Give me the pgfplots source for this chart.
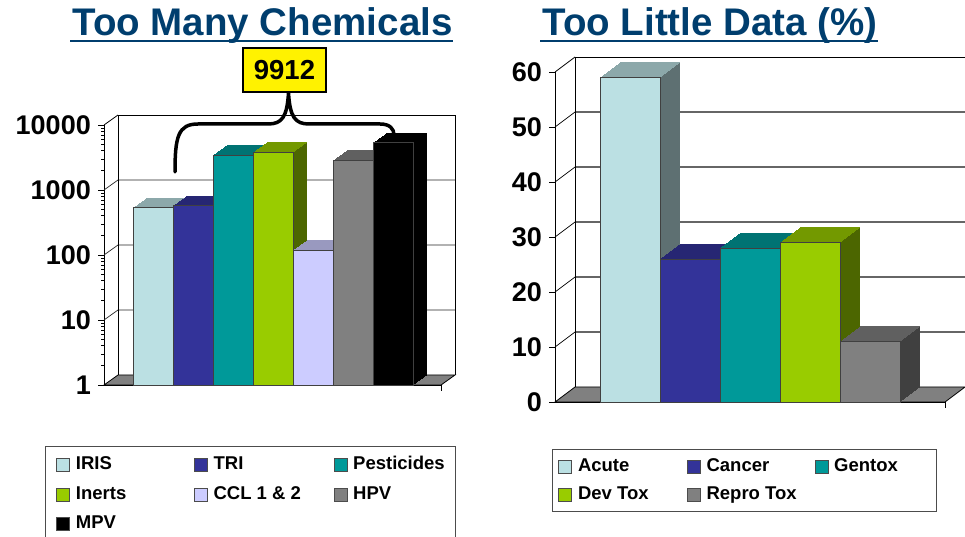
\documentclass[border=0pt]{standalone}
\usepackage{pgfplots}
\pgfplotsset{compat=1.18}
\usepackage{fontspec}
\setmainfont{Liberation Sans}
\definecolor{ttl}{RGB}{0,62,110}
\definecolor{cIRIS}{RGB}{187,224,227}
\definecolor{cTRI}{RGB}{51,51,153}
\definecolor{cPest}{RGB}{0,153,153}
\definecolor{cIner}{RGB}{153,204,0}
\definecolor{cCCL}{RGB}{204,204,255}
\definecolor{cHPV}{RGB}{128,128,128}
\definecolor{cMPV}{RGB}{0,0,0}
\definecolor{cFloor}{RGB}{128,128,128}
\makeatletter
\tikzset{extrude/.code args={#1/#2/#3/#4/#5}{%
  \gdef\ext@list{}%
  \foreach \k in {#2,...,#3}{%
    \pgfmathsetmacro\ext@x{\k*#4}%
    \pgfmathsetmacro\ext@y{\k*#5}%
    \xdef\ext@list{\ext@list,preaction={fill=#1,draw=none,transform canvas={shift={(\ext@x pt,\ext@y pt)}}}}%
  }%
  \expandafter\pgfkeysalso\expandafter{\ext@list}%
}}
\makeatother
\pgfplotsset{
  sqlegend/.style={legend image code/.code={\draw[##1,draw=black!70,line width=0.6pt] (0pt,-6.5pt) rectangle (13pt,6.5pt); \path (19pt,0pt);}},
  topL/.style={ybar,bar width=40pt,bar shift=0pt,draw=none,fill=none,forget plot,extrude={#1!75!black/1/14/1/0.7143}},
  sideL/.style={ybar,bar width=1.3pt,bar shift=20.65pt,draw=none,fill=#1!50!black,forget plot,extrude={#1!50!black/1/13/1/0.7143}},
  frontL/.style={ybar,bar width=40pt,bar shift=0pt,fill=#1,draw=black!75,line width=0.6pt,sqlegend},
  topR/.style={ybar,bar width=60pt,bar shift=0pt,draw=none,fill=none,forget plot,extrude={#1!75!black/1/20/1/0.75}},
  sideR/.style={ybar,bar width=1.3pt,bar shift=30.65pt,draw=none,fill=#1!50!black,forget plot,extrude={#1!50!black/1/19/1/0.75}},
  frontR/.style={ybar,bar width=60pt,bar shift=0pt,fill=#1,draw=black!75,line width=0.6pt,sqlegend},
  base3d/.style={
    scale only axis, clip=false, enlargelimits=false,
    axis x line*=bottom, axis y line*=left,
    axis line style={black,line width=0.8pt},
    xtick=\empty, tick align=outside, major tick length=6pt,
    ytick style={black,line width=0.8pt},
    yticklabel style={font=\fontsize{27}{27}\selectfont\bfseries,inner xsep=0pt,xshift=-7pt},
    /pgf/number format/assume math mode=true,
    legend columns=3, legend cell align=left,
  },
}
\begin{document}
\begin{tikzpicture}
\path[use as bounding box] (0pt,0pt) rectangle (965pt,537pt);
% ---------------- left chart ----------------
\begin{axis}[base3d,
  at={(104pt,152pt)}, anchor=south west,
  width=337pt, height=260pt,
  xmin=-1.225, xmax=7.2,
  ymode=log, ymin=1, ymax=10000,
  ytick={1,10,100,1000,10000}, yticklabels={1,10,100,1000,10000},
  legend style={at={(-0.1751,-0.2346)}, anchor=north west, draw=black!70, line width=0.8pt,
    inner xsep=11pt, inner ysep=10pt, row sep=12.5pt,
    font=\fontsize{18.5}{18.5}\selectfont\bfseries,
    nodes={inner sep=0pt,text height=13.5pt,text depth=3.5pt}},
]
\draw[black,line width=0.8pt,fill=cFloor] (rel axis cs:0,0) -- (rel axis cs:1,0) -- ([shift={(14pt,10pt)}]rel axis cs:1,0) -- ([shift={(14pt,10pt)}]rel axis cs:0,0) -- cycle;
\pgfplotsinvokeforeach{10,100,1000}{
  \draw[black!85,line width=0.7pt] (axis cs:-1.225,#1) -- ([shift={(14pt,10pt)}]axis cs:-1.225,#1) -- ([shift={(14pt,10pt)}]axis cs:7.2,#1);
}
\draw[black,line width=0.8pt] ([shift={(14pt,10pt)}]rel axis cs:0,0) -- ([shift={(14pt,10pt)}]rel axis cs:0,1) -- ([shift={(14pt,10pt)}]rel axis cs:1,1) -- ([shift={(14pt,10pt)}]rel axis cs:1,0);
\draw[black,line width=0.8pt] (rel axis cs:0,1) -- ([shift={(14pt,10pt)}]rel axis cs:0,1);
\draw[black,line width=0.8pt] (rel axis cs:1,0) -- ++(0pt,-6pt);
% IRIS
\addplot[topL=cIRIS] coordinates {(0,534)};
\addplot[sideL=cIRIS] coordinates {(0,534)};
\addplot[frontL=cIRIS] coordinates {(0,534)};
\addlegendentry{\makebox[118pt][l]{IRIS}}
% TRI
\addplot[topL=cTRI] coordinates {(1,573)};
\addplot[sideL=cTRI] coordinates {(1,573)};
\addplot[frontL=cTRI] coordinates {(1,573)};
\addlegendentry{\makebox[120pt][l]{TRI}}
% Pesticides
\addplot[topL=cPest] coordinates {(2,3455)};
\addplot[sideL=cPest] coordinates {(2,3455)};
\addplot[frontL=cPest] coordinates {(2,3455)};
\addlegendentry{Pesticides}
% Inerts
\addplot[topL=cIner] coordinates {(3,3802)};
\addplot[sideL=cIner] coordinates {(3,3802)};
\addplot[frontL=cIner] coordinates {(3,3802)};
\addlegendentry{\makebox[118pt][l]{Inerts}}
% CCL
\addplot[topL=cCCL] coordinates {(4,119)};
\addplot[sideL=cCCL] coordinates {(4,119)};
\addplot[frontL=cCCL] coordinates {(4,119)};
\addlegendentry{\makebox[120pt][l]{CCL 1 \& 2}}
% HPV
\addplot[topL=cHPV] coordinates {(5,2864)};
\addplot[sideL=cHPV] coordinates {(5,2864)};
\addplot[frontL=cHPV] coordinates {(5,2864)};
\addlegendentry{HPV}
% MPV
\addplot[topL=cMPV] coordinates {(6,5340)};
\addplot[sideL=cMPV] coordinates {(6,5340)};
\addplot[frontL=cMPV] coordinates {(6,5340)};
\addlegendentry{\makebox[118pt][l]{MPV}}
\end{axis}
% ---------------- right chart ----------------
\begin{axis}[base3d,
  at={(555pt,135pt)}, anchor=south west,
  width=390pt, height=330pt,
  xmin=-1.25, xmax=5.25,
  ymin=0, ymax=60,
  ytick={0,10,20,30,40,50,60}, yticklabels={0,10,20,30,40,50,60},
  legend style={at={(-0.0077,-0.1424)}, anchor=north west, draw=black!70, line width=0.8pt,
    inner xsep=6pt, inner ysep=8.5pt, row sep=11pt,
    font=\fontsize{18.5}{18.5}\selectfont\bfseries,
    nodes={inner sep=0pt,text height=13.5pt,text depth=3.5pt}},
]
\draw[black,line width=0.8pt,fill=cFloor] (rel axis cs:0,0) -- (rel axis cs:1,0) -- ([shift={(20pt,15pt)}]rel axis cs:1,0) -- ([shift={(20pt,15pt)}]rel axis cs:0,0) -- cycle;
\pgfplotsinvokeforeach{10,20,30,40,50}{
  \draw[black,line width=0.7pt] (axis cs:-1.25,#1) -- ([shift={(20pt,15pt)}]axis cs:-1.25,#1);
  \draw[black!60,line width=1.1pt] ([shift={(20pt,15pt)}]axis cs:-1.25,#1) -- ([shift={(20pt,15pt)}]axis cs:5.25,#1);
}
\draw[black,line width=0.8pt] ([shift={(20pt,15pt)}]rel axis cs:0,0) -- ([shift={(20pt,15pt)}]rel axis cs:0,1) -- ([shift={(20pt,15pt)}]rel axis cs:1,1) -- ([shift={(20pt,15pt)}]rel axis cs:1,0);
\draw[black,line width=0.8pt] (rel axis cs:0,1) -- ([shift={(20pt,15pt)}]rel axis cs:0,1);
\draw[black,line width=0.8pt] (rel axis cs:1,0) -- ++(0pt,-6pt);
% Acute
\addplot[topR=cIRIS] coordinates {(0,59)};
\addplot[sideR=cIRIS] coordinates {(0,59)};
\addplot[frontR=cIRIS] coordinates {(0,59)};
\addlegendentry{\makebox[109pt][l]{Acute}}
% Cancer
\addplot[topR=cTRI] coordinates {(1,26)};
\addplot[sideR=cTRI] coordinates {(1,26)};
\addplot[frontR=cTRI] coordinates {(1,26)};
\addlegendentry{\makebox[108pt][l]{Cancer}}
% Gentox
\addplot[topR=cPest] coordinates {(2,28)};
\addplot[sideR=cPest] coordinates {(2,28)};
\addplot[frontR=cPest] coordinates {(2,28)};
\addlegendentry{\makebox[96pt][l]{Gentox}}
% Dev Tox
\addplot[topR=cIner] coordinates {(3,29)};
\addplot[sideR=cIner] coordinates {(3,29)};
\addplot[frontR=cIner] coordinates {(3,29)};
\addlegendentry{\makebox[109pt][l]{Dev Tox}}
% Repro Tox
\addplot[topR=cHPV] coordinates {(4,11)};
\addplot[sideR=cHPV] coordinates {(4,11)};
\addplot[frontR=cHPV] coordinates {(4,11)};
\addlegendentry{\makebox[108pt][l]{Repro Tox}}
\end{axis}
% ---------------- titles and callout ----------------
\node[anchor=base,inner sep=0pt,text=ttl,font=\fontsize{38.5}{40}\selectfont\bfseries] (t1) at (262.5pt,501pt) {Too Many Chemicals};
\draw[ttl,line width=2.2pt] ([yshift=-5pt,xshift=-2pt]t1.base west) -- ([yshift=-5pt]t1.base east);
\node[anchor=base,inner sep=0pt,text=ttl,font=\fontsize{38.5}{40}\selectfont\bfseries] (t2) at (710pt,501pt) {Too Little Data (\%)};
\draw[ttl,line width=2.2pt] ([yshift=-5pt,xshift=-2pt]t2.base west) -- ([yshift=-5pt]t2.base east);
\draw[black,line width=3.5pt,line cap=round] (175pt,365pt) .. controls (175pt,400pt) and (178pt,413pt) .. (198pt,413pt) -- (268pt,413pt) .. controls (282pt,413pt) and (287pt,420pt) .. (288.5pt,444pt) .. controls (290pt,420pt) and (295pt,413pt) .. (309pt,413pt) -- (380pt,413pt) .. controls (390pt,413pt) and (394pt,408pt) .. (394pt,402pt);
\node[draw=black,line width=1.2pt,fill=yellow,minimum width=83pt,minimum height=44pt,inner sep=0pt,font=\fontsize{27.5}{27.5}\selectfont\bfseries] at (284.5pt,467pt) {9912};
\end{tikzpicture}
\end{document}
